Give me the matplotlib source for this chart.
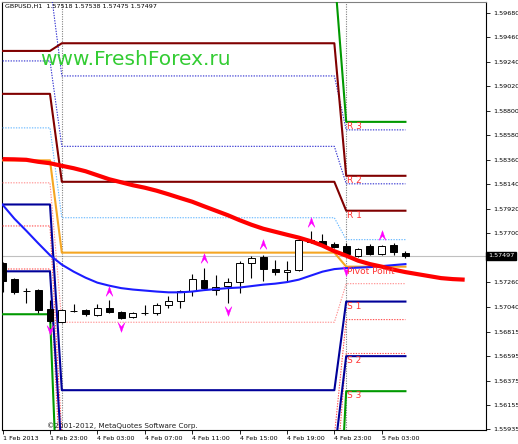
import matplotlib
matplotlib.use("Agg")
import matplotlib.pyplot as plt
import matplotlib.transforms as mtransforms
from matplotlib.path import Path

# GBPUSD H1 bars, 1 Feb 19:00 .. 5 Feb 05:00
opens = [1.57435, 1.57289, 1.57180, 1.57186, 1.57017, 1.56902, 1.56999, 1.57013, 1.56968, 1.57031,
         1.56990, 1.56947, 1.56983, 1.56983, 1.57053, 1.57087, 1.57177, 1.57282, 1.57192, 1.57222,
         1.57258, 1.57432, 1.57483, 1.57378, 1.57351, 1.57372, 1.57642, 1.57626, 1.57603, 1.57588,
         1.57498, 1.57581, 1.57513, 1.57597, 1.57518]
highs = [1.57444, 1.57300, 1.57211, 1.57202, 1.57103, 1.57022, 1.57067, 1.57022, 1.57067, 1.57103,
         1.57004, 1.56995, 1.57058, 1.57076, 1.57132, 1.57192, 1.57334, 1.57387, 1.57327, 1.57298,
         1.57447, 1.57492, 1.57507, 1.57462, 1.57447, 1.57657, 1.57716, 1.57695, 1.57617, 1.57612,
         1.57570, 1.57603, 1.57597, 1.57612, 1.57538]
lows = [1.57175, 1.57157, 1.57076, 1.56986, 1.56896, 1.56896, 1.56990, 1.56959, 1.56955, 1.56986,
        1.56932, 1.56941, 1.56968, 1.56962, 1.57028, 1.57028, 1.57132, 1.57192, 1.57148, 1.57073,
        1.57163, 1.57298, 1.57267, 1.57327, 1.57267, 1.57357, 1.57612, 1.57581, 1.57570, 1.57507,
        1.57489, 1.57501, 1.57504, 1.57507, 1.57475]
closes = [1.57273, 1.57168, 1.57176, 1.57013, 1.56914, 1.57007, 1.57004, 1.56977, 1.57026, 1.56992,
          1.56941, 1.56983, 1.56986, 1.57058, 1.57087, 1.57177, 1.57289, 1.57208, 1.57213, 1.57258,
          1.57432, 1.57477, 1.57378, 1.57348, 1.57372, 1.57642, 1.57624, 1.57597, 1.57579, 1.57516,
          1.57561, 1.57513, 1.57588, 1.57527, 1.57497]

# slow MA (red, shifted forward) and fast MA (blue)
ma_red = [1.58366, 1.58364, 1.58360, 1.58342, 1.58329, 1.58306, 1.58284, 1.58257, 1.58221, 1.58185,
          1.58158, 1.58131, 1.58109, 1.58082, 1.58050, 1.58016, 1.57983, 1.57942, 1.57902, 1.57862,
          1.57817, 1.57776, 1.57740, 1.57713, 1.57686, 1.57660, 1.57628, 1.57588, 1.57538, 1.57498,
          1.57453, 1.57422, 1.57399, 1.57372, 1.57350, 1.57332, 1.57314, 1.57296, 1.57287, 1.57282]
ma_blue = [1.57956, 1.57830, 1.57722, 1.57610, 1.57502, 1.57417, 1.57354, 1.57300, 1.57255, 1.57228,
           1.57206, 1.57193, 1.57184, 1.57175, 1.57168, 1.57168, 1.57175, 1.57188, 1.57197, 1.57206,
           1.57211, 1.57224, 1.57237, 1.57246, 1.57260, 1.57282, 1.57318, 1.57354, 1.57377, 1.57386,
           1.57390, 1.57395, 1.57404, 1.57413, 1.57422]

# daily pivot levels: Fri, Mon, Tue
r3 = [1.60400, 1.60060, 1.58701]
r3_dot = [1.59950, 1.59114, 1.58629]
r2 = [1.59339, 1.59408, 1.58216]
r2_dot = [1.59249, 1.58481, 1.58144]
r1 = [1.58953, 1.58162, 1.57902]
r1_dot = [1.58647, 1.57839, 1.57642]
pivot = [1.58355, 1.57525, 1.57399]
s1_dot = [1.58153, 1.56899, 1.57246]
s1 = [1.57958, 1.56288, 1.57085]
s2_dot = [1.57765, 1.55873, 1.56923]
s2 = [1.57357, 1.55706, 1.56594]
s3_dot = [1.57378, 1.55289, 1.56618]
s3 = [1.56971, 1.54300, 1.56279]
bars_per_day = [5, 24, 6]

# fractals
frac_up_bars = [9, 17, 22, 26, 32]
frac_up_vals = [1.57184, 1.57480, 1.57606, 1.57803, 1.57686]
frac_dn_bars = [4, 10, 19, 29]
frac_dn_vals = [1.56833, 1.56860, 1.57004, 1.57363]

x_tick_bars = [0, 4, 8, 12, 16, 20, 24, 28, 32]
x_tick_labels = ['1 Feb 2013', '1 Feb 23:00', '4 Feb 03:00', '4 Feb 07:00', '4 Feb 11:00',
                 '4 Feb 15:00', '4 Feb 19:00', '4 Feb 23:00', '5 Feb 03:00']
y_ticks = [1.59680, 1.59460, 1.59240, 1.59020, 1.58800, 1.58580, 1.58360, 1.58140, 1.57920,
           1.57700, 1.57260, 1.57040, 1.56815, 1.56595, 1.56375, 1.56155, 1.55935]
last_price = 1.57497
day_sep_bars = [5, 29]


def per_bar(vals):
    out = []
    for v, n in zip(vals, bars_per_day):
        out += [v] * n
    return out


fig = plt.figure(figsize=(5.18, 4.44), dpi=100)
ax = fig.add_axes([2 / 518, 14 / 444, 484 / 518, 428 / 444])
ax.set_xlim(-0.05, 40.8)
ax.set_ylim(1.5593, 1.59779)

n = len(opens)
xs = list(range(n))

# bid line and day separators
ax.axhline(last_price, color='#c0c0c0', lw=0.8, zorder=1)
for b in day_sep_bars:
    ax.axvline(b, color='#808080', lw=0.8, ls=(0, (1, 1.2)), zorder=1)

# pivot lines
solid = [(r3, '#009900'), (r2, '#800000'), (r1, '#800000'), (pivot, '#f5a623'),
         (s1, '#000099'), (s2, '#000099'), (s3, '#009900')]
dotted = [(r3_dot, '#3030d0'), (r2_dot, '#3030d0'), (r1_dot, '#66b8ff'),
          (s1_dot, '#ff9090'), (s2_dot, '#ff5050'), (s3_dot, '#ff5050')]
for vals, c in dotted:
    ax.plot(xs, per_bar(vals), color=c, lw=0.8, ls=(0, (1.2, 1.2)), zorder=3)
for vals, c in solid:
    ax.plot(xs, per_bar(vals), color=c, lw=1.5, zorder=4)

# candles
for i in range(n):
    o, h, l, c = opens[i], highs[i], lows[i], closes[i]
    ax.vlines(i, l, h, color='black', lw=0.8, zorder=5)
    bottom = min(o, c)
    height = max(abs(c - o), 0.000005)
    face = 'black' if c < o else 'white'
    ax.bar(i, height, bottom=bottom, width=0.58, color=face, edgecolor='black', lw=0.7, zorder=6)

# moving averages
ax.plot(range(len(ma_blue)), ma_blue, color='#1c1cff', lw=1.5, zorder=7)
ax.plot(range(len(ma_red)), ma_red, color='#ff0000', lw=3.0, zorder=8, solid_capstyle='butt')

# fractal arrows
up_arrow = Path([(0, 1), (0.7, -1), (0, -0.15), (-0.7, -1), (0, 1)],
                [Path.MOVETO, Path.LINETO, Path.LINETO, Path.LINETO, Path.CLOSEPOLY])
dn_arrow = Path([(0, -1), (0.7, 1), (0, 0.15), (-0.7, 1), (0, -1)],
                [Path.MOVETO, Path.LINETO, Path.LINETO, Path.LINETO, Path.CLOSEPOLY])
ax.plot(frac_up_bars, frac_up_vals, ls='none', marker=up_arrow, ms=7, color='#ff00ff',
        mec='#ff00ff', mew=0.3, zorder=9)
ax.plot(frac_dn_bars, frac_dn_vals, ls='none', marker=dn_arrow, ms=7, color='#ff00ff',
        mec='#ff00ff', mew=0.3, zorder=9)

# level names
names = [('R 3', r3[2]), ('R 2', r2[2]), ('R 1', r1[2]), ('Pivot Point', pivot[2]),
         ('S 1', s1[2]), ('S 2', s2[2]), ('S 3', s3[2])]
for txt, v in names:
    ax.text(29.1, v, txt, color='#ff3333', fontsize=6.5, va='top', ha='left', zorder=10)

# axes styling
ax.set_xticks(x_tick_bars)
ax.set_xticklabels(x_tick_labels, fontsize=4.6, ha='left')
ax.set_yticks(y_ticks)
ax.set_yticklabels(['%.5f' % v for v in y_ticks], fontsize=4.6)
ax.yaxis.tick_right()
ax.tick_params(axis='y', length=3, width=0.6, pad=2)
ax.tick_params(axis='x', length=3, width=0.6, pad=1.5)
for s in ax.spines.values():
    s.set_linewidth(0.8)
ax.spines['top'].set_color('#808080')

trans = mtransforms.blended_transform_factory(ax.transAxes, ax.transData)
ax.text(1.004, last_price, '%.5f' % last_price, transform=trans, fontsize=4.6, color='white',
        va='center', ha='left', bbox=dict(facecolor='black', edgecolor='black', pad=1.2), zorder=11,
        clip_on=False)

ax.text(0.006, 0.997, 'GBPUSD,H1  1.57518 1.57538 1.57475 1.57497', transform=ax.transAxes,
        fontsize=4.6, va='top', ha='left')
ax.text(0.079, 0.853, 'www.FreshForex.ru', transform=ax.transAxes, fontsize=14.5,
        color='#33cc33', va='baseline', ha='left', zorder=12)
ax.text(0.093, 0.01, '\u00a92001-2012, MetaQuotes Software Corp.', transform=ax.transAxes,
        fontsize=5.2, color='#202020', va='center', ha='left')

fig.savefig('out.png', dpi=100)
